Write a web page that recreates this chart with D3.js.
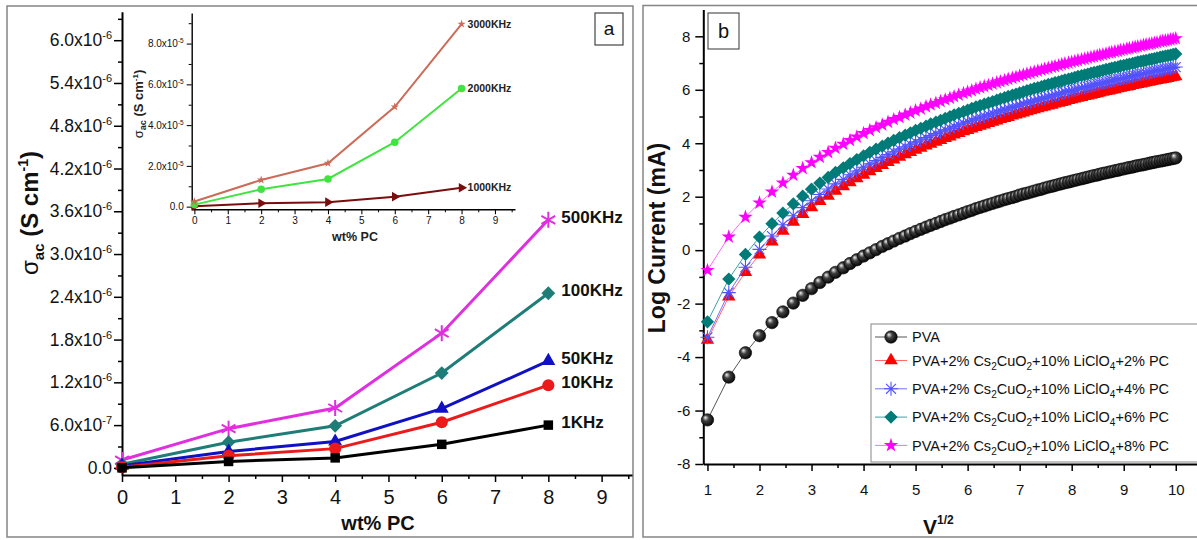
<!DOCTYPE html>
<html><head><meta charset="utf-8">
<script src="https://cdn.jsdelivr.net/npm/d3@7/dist/d3.min.js"></script>
<style>
html,body{margin:0;padding:0;background:#fff;}
svg{display:block;}
</style></head><body>
<svg id="chart" width="1197" height="540"></svg>
<script>
// ================= DATA =================
// Panel (a): sigma_ac (S cm^-1) vs wt% PC
const wtPC = [0, 2, 4, 6, 8];
const sigma1KHz   = [0.00e-6, 0.09e-6, 0.14e-6, 0.33e-6, 0.60e-6];
const sigma10KHz  = [0.01e-6, 0.17e-6, 0.27e-6, 0.64e-6, 1.16e-6];
const sigma50KHz  = [0.03e-6, 0.23e-6, 0.37e-6, 0.83e-6, 1.50e-6];
const sigma100KHz = [0.05e-6, 0.36e-6, 0.59e-6, 1.33e-6, 2.45e-6];
const sigma500KHz = [0.11e-6, 0.55e-6, 0.84e-6, 1.89e-6, 3.48e-6];
// inset
const sigma1000KHz = [0.02e-5, 0.17e-5, 0.22e-5, 0.49e-5, 0.93e-5];
const sigma2000KHz = [0.10e-5, 0.85e-5, 1.36e-5, 3.16e-5, 5.80e-5];
const sigma3000KHz = [0.25e-5, 1.31e-5, 2.13e-5, 4.90e-5, 8.96e-5];
const mainXTicks = [0,1,2,3,4,5,6,7,8,9];
const mainYTicks = [0, 6.0e-7, 1.2e-6, 1.8e-6, 2.4e-6, 3.0e-6, 3.6e-6, 4.2e-6, 4.8e-6, 5.4e-6, 6.0e-6];
const insetXTicks = [0,1,2,3,4,5,6,7,8,9];
const insetYTicks = [0, 2.0e-5, 4.0e-5, 6.0e-5, 8.0e-5];

// Panel (b): Log Current (mA) vs V^1/2
const sqrtV = [1.00,1.41,1.73,2.00,2.24,2.45,2.65,2.83,3.00,3.16,
3.32,3.46,3.61,3.74,3.87,4.00,4.12,4.24,4.36,4.47,
4.58,4.69,4.80,4.90,5.00,5.10,5.20,5.29,5.39,5.48,
5.57,5.66,5.74,5.83,5.92,6.00,6.08,6.16,6.24,6.32,
6.40,6.48,6.56,6.63,6.71,6.78,6.86,6.93,7.00,7.07,
7.14,7.21,7.28,7.35,7.42,7.48,7.55,7.62,7.68,7.75,
7.81,7.87,7.94,8.00,8.06,8.12,8.19,8.25,8.31,8.37,
8.43,8.49,8.54,8.60,8.66,8.72,8.77,8.83,8.89,8.94,
9.00,9.06,9.11,9.17,9.22,9.27,9.33,9.38,9.43,9.49,
9.54,9.59,9.64,9.70,9.75,9.80,9.85,9.90,9.95,10.00];
const logPVA = [-6.35,-4.75,-3.84,-3.20,-2.71,-2.31,-1.98,-1.69,-1.44,-1.21,
-1.01,-0.83,-0.66,-0.50,-0.36,-0.22,-0.10,0.02,0.14,0.24,
0.34,0.44,0.53,0.62,0.70,0.78,0.86,0.93,1.00,1.07,
1.14,1.20,1.26,1.32,1.38,1.44,1.49,1.55,1.60,1.65,
1.70,1.75,1.80,1.84,1.89,1.93,1.97,2.01,2.06,2.10,
2.13,2.17,2.21,2.25,2.28,2.32,2.36,2.39,2.42,2.46,
2.49,2.52,2.55,2.58,2.61,2.64,2.67,2.70,2.73,2.76,
2.79,2.81,2.84,2.87,2.89,2.92,2.94,2.97,2.99,3.02,
3.04,3.07,3.09,3.11,3.14,3.16,3.18,3.20,3.22,3.25,
3.27,3.29,3.31,3.33,3.35,3.37,3.39,3.41,3.43,3.45];
const logPC2 = [-3.36,-1.74,-0.82,-0.17,0.32,0.72,1.06,1.35,1.60,1.83,
2.03,2.22,2.39,2.54,2.69,2.82,2.95,3.07,3.18,3.29,
3.39,3.49,3.58,3.67,3.75,3.83,3.91,3.98,4.05,4.12,
4.19,4.25,4.32,4.38,4.44,4.49,4.55,4.60,4.65,4.70,
4.75,4.80,4.85,4.90,4.94,4.98,5.03,5.07,5.11,5.15,
5.19,5.23,5.27,5.30,5.34,5.37,5.41,5.44,5.48,5.51,
5.54,5.57,5.61,5.64,5.67,5.70,5.73,5.76,5.78,5.81,
5.84,5.87,5.89,5.92,5.95,5.97,6.00,6.02,6.05,6.07,
6.10,6.12,6.14,6.17,6.19,6.21,6.23,6.26,6.28,6.30,
6.32,6.34,6.36,6.38,6.40,6.42,6.44,6.46,6.48,6.50];
const logPC4 = [-3.26,-1.59,-0.64,0.03,0.53,0.95,1.29,1.59,1.85,2.08,
2.29,2.48,2.65,2.82,2.96,3.10,3.23,3.35,3.47,3.58,
3.68,3.78,3.87,3.96,4.05,4.13,4.21,4.29,4.36,4.43,
4.50,4.56,4.63,4.69,4.75,4.81,4.86,4.92,4.97,5.02,
5.07,5.12,5.17,5.22,5.26,5.31,5.35,5.39,5.43,5.48,
5.52,5.55,5.59,5.63,5.67,5.70,5.74,5.77,5.81,5.84,
5.88,5.91,5.94,5.97,6.00,6.03,6.06,6.09,6.12,6.15,
6.18,6.21,6.23,6.26,6.29,6.31,6.34,6.36,6.39,6.41,
6.44,6.46,6.49,6.51,6.53,6.56,6.58,6.60,6.62,6.64,
6.67,6.69,6.71,6.73,6.75,6.77,6.79,6.81,6.83,6.85];
const logPC6 = [-2.68,-1.08,-0.16,0.49,0.99,1.39,1.73,2.02,2.28,2.51,
2.72,2.91,3.08,3.24,3.39,3.53,3.66,3.78,3.89,4.00,
4.11,4.21,4.30,4.39,4.48,4.56,4.64,4.72,4.79,4.86,
4.93,5.00,5.06,5.12,5.18,5.24,5.30,5.36,5.41,5.46,
5.51,5.56,5.61,5.66,5.71,5.75,5.80,5.84,5.88,5.92,
5.97,6.01,6.05,6.08,6.12,6.16,6.20,6.23,6.27,6.30,
6.33,6.37,6.40,6.43,6.46,6.50,6.53,6.56,6.59,6.62,
6.65,6.67,6.70,6.73,6.76,6.78,6.81,6.84,6.86,6.89,
6.91,6.94,6.96,6.99,7.01,7.04,7.06,7.08,7.10,7.13,
7.15,7.17,7.19,7.22,7.24,7.26,7.28,7.30,7.32,7.34];
const logPC8 = [-0.75,0.50,1.24,1.77,2.18,2.52,2.81,3.06,3.28,3.48,
3.66,3.82,3.97,4.11,4.24,4.37,4.48,4.59,4.69,4.79,
4.89,4.97,5.06,5.14,5.22,5.29,5.37,5.44,5.50,5.57,
5.63,5.69,5.75,5.81,5.87,5.92,5.97,6.03,6.08,6.13,
6.17,6.22,6.27,6.31,6.35,6.40,6.44,6.48,6.52,6.56,
6.60,6.63,6.67,6.71,6.74,6.78,6.81,6.85,6.88,6.91,
6.95,6.98,7.01,7.04,7.07,7.10,7.13,7.16,7.19,7.22,
7.24,7.27,7.30,7.32,7.35,7.38,7.40,7.43,7.45,7.48,
7.50,7.53,7.55,7.57,7.60,7.62,7.64,7.67,7.69,7.71,
7.73,7.75,7.77,7.80,7.82,7.84,7.86,7.88,7.90,7.92];
const bXTicks = [1,2,3,4,5,6,7,8,9,10];
const bYTicks = [-8,-6,-4,-2,0,2,4,6,8];
const legendNames = ["PVA", "2% PC", "4% PC", "6% PC", "8% PC"];

// ================= DRAWING =================
const FONT = "'Liberation Sans', Arial, Helvetica, sans-serif";
const svg = d3.select("#chart").attr("font-family", FONT);

const defs = svg.append("defs");
const grad = defs.append("radialGradient").attr("id","sph")
  .attr("cx","45%").attr("cy","45%").attr("r","60%").attr("fx","32%").attr("fy","30%");
grad.append("stop").attr("offset","0%").attr("stop-color","#f0f0f0");
grad.append("stop").attr("offset","40%").attr("stop-color","#404040");
grad.append("stop").attr("offset","100%").attr("stop-color","#000");

function asteriskPath(r, n) {
  let p = "";
  for (let i = 0; i < n; i++) {
    const a = Math.PI * i / n, dx = r * Math.sin(a), dy = r * Math.cos(a);
    p += `M${-dx},${-dy}L${dx},${dy}`;
  }
  return p;
}
function sciParts(v) {
  if (v === 0) return ["0.0", ""];
  const e = Math.floor(Math.log10(v) + 1e-9);
  const m = v / Math.pow(10, e);
  return [m.toFixed(1) + "x10", String(e)];
}
function sciLabel(t, v, sfs, rise) {
  const p = sciParts(v);
  t.text(null);
  t.append("tspan").text(p[0]);
  if (p[1]) t.append("tspan").attr("dy", -rise).attr("font-size", sfs).text(p[1]);
}
function styleAxis(g, fs, sw) {
  g.attr("font-family", FONT).attr("font-size", fs);
  g.select(".domain").attr("stroke-width", sw);
  g.selectAll(".tick line").attr("stroke-width", sw * 0.75);
  g.selectAll(".tick text").attr("fill", "#111");
}
function minorAxis(gen, tr, sw) {
  return svg.append("g").attr("transform", tr).call(gen.tickFormat(""))
    .call(g => g.select(".domain").remove())
    .call(g => g.selectAll("line").attr("stroke-width", sw));
}
function drawSymbol(g, sym, x, y, color, sz) {
  if (sym === "aster") {
    g.append("path").attr("d", asteriskPath(sz, 3))
      .attr("transform", `translate(${x},${y})`).attr("stroke", color).attr("stroke-width", 2).attr("fill", "none");
  } else if (sym === "aster8") {
    g.append("path").attr("d", asteriskPath(sz, 4))
      .attr("transform", `translate(${x},${y})`).attr("stroke", color).attr("stroke-width", 1.1).attr("fill", "none");
  } else if (sym === "sphere") {
    g.append("circle").attr("cx", x).attr("cy", y).attr("r", sz).attr("fill", "url(#sph)").attr("stroke", "#000").attr("stroke-width", 0.6);
  } else {
    const types = {square: d3.symbolSquare, circle: d3.symbolCircle, triangle: d3.symbolTriangle,
      diamond: d3.symbolSquare, rtri: d3.symbolTriangle, star: d3.symbolStar};
    const rot = sym === "diamond" ? 45 : (sym === "rtri" ? 90 : 0);
    g.append("path").attr("d", d3.symbol(types[sym], sz)())
      .attr("transform", `translate(${x},${y}) rotate(${rot})`).attr("fill", color);
  }
}

// panel frames
svg.append("rect").attr("x", 7).attr("y", 6).attr("width", 626).attr("height", 531)
  .attr("fill", "none").attr("stroke", "#858585").attr("stroke-width", 1.5);
svg.append("rect").attr("x", 643).attr("y", 5.5).attr("width", 570).attr("height", 531.5)
  .attr("fill", "none").attr("stroke", "#858585").attr("stroke-width", 1.5);

// ---------- Panel (a) main ----------
const ax = d3.scaleLinear().domain([0, 9.57]).range([122, 632]);
const ay = d3.scaleLinear().domain([-0.1e-6, 6.4e-6]).range([475, 11.7]);

minorAxis(d3.axisBottom(ax).tickValues(d3.range(0.5, 9.6, 1)).tickSize(4), "translate(0,475)", 1.5);
const gax = svg.append("g").attr("transform", "translate(0,475)")
  .call(d3.axisBottom(ax).tickValues(mainXTicks).tickSize(7).tickSizeOuter(0).tickPadding(8));
styleAxis(gax, 20, 2);

minorAxis(d3.axisLeft(ay).tickValues(d3.range(0.3e-6, 6.4e-6, 0.6e-6)).tickSize(4), "translate(122,0)", 1.5);
const gay = svg.append("g").attr("transform", "translate(122,0)")
  .call(d3.axisLeft(ay).tickValues(mainYTicks).tickSize(8).tickSizeOuter(0).tickPadding(2).tickFormat(""));
styleAxis(gay, 17.5, 2);
gay.selectAll(".tick text").each(function(d) { sciLabel(d3.select(this), d, 11, 7); });

const seriesA = [
  {vals: sigma500KHz, color: "#df2fdf", sym: "aster",   sz: 8,   label: "500KHz"},
  {vals: sigma100KHz, color: "#1f7d78", sym: "diamond", sz: 95,  label: "100KHz"},
  {vals: sigma50KHz,  color: "#1010c4", sym: "triangle",sz: 85,  label: "50KHz"},
  {vals: sigma10KHz,  color: "#ec1a1a", sym: "circle",  sz: 115, label: "10KHz"},
  {vals: sigma1KHz,   color: "#000000", sym: "square",  sz: 90,  label: "1KHz"}
];
const lineA = d3.line().x((d, i) => ax(wtPC[i])).y(d => ay(d));
seriesA.forEach(s => {
  const g = svg.append("g");
  g.append("path").attr("d", lineA(s.vals)).attr("fill", "none").attr("stroke", s.color).attr("stroke-width", 3);
  s.vals.forEach((v, i) => drawSymbol(g, s.sym, ax(wtPC[i]), ay(v), s.color, s.sz));
  g.append("text").attr("x", ax(wtPC[4]) + 13).attr("y", ay(s.vals[4]) - 3).attr("dy", "0.35em")
    .attr("font-size", 17).attr("font-weight", "bold").attr("fill", "#111").text(s.label);
});

// axis labels panel a
svg.append("text").attr("x", 378).attr("y", 530).attr("text-anchor", "middle")
  .attr("font-size", 20).attr("font-weight", "bold").attr("fill", "#111").text("wt% PC");
{
  const t = svg.append("text").attr("transform", "translate(38,213) rotate(-90)")
    .attr("text-anchor", "middle").attr("font-size", 24).attr("font-weight", "bold").attr("fill", "#111");
  t.append("tspan").attr("font-weight", "normal").text("σ");
  t.append("tspan").attr("font-size", 15).attr("dy", 6).text("ac");
  t.append("tspan").attr("dy", -6).text(" (S cm");
  t.append("tspan").attr("font-size", 14).attr("dy", -10).text("-1");
  t.append("tspan").attr("dy", 10).text(")");
}
// "a" box
svg.append("rect").attr("x", 595).attr("y", 13).attr("width", 28).attr("height", 32)
  .attr("fill", "#fff").attr("stroke", "#444").attr("stroke-width", 1.2);
svg.append("text").attr("x", 609).attr("y", 35).attr("text-anchor", "middle").attr("font-size", 19).attr("fill", "#111").text("a");

// ---------- Panel (a) inset ----------
const ix = d3.scaleLinear().domain([-0.08, 9.6]).range([191.7, 515]);
const iy = d3.scaleLinear().domain([-0.13e-5, 9.5e-5]).range([209.3, 13]);
minorAxis(d3.axisBottom(ix).tickValues(d3.range(0.5, 9.6, 1)).tickSize(3), "translate(0,209.3)", 1);
const gix = svg.append("g").attr("transform", "translate(0,209.3)")
  .call(d3.axisBottom(ix).tickValues(insetXTicks).tickSize(5).tickSizeOuter(0).tickPadding(3));
styleAxis(gix, 10, 1.4);
minorAxis(d3.axisLeft(iy).tickValues(d3.range(1e-5, 9.5e-5, 2e-5)).tickSize(3), "translate(191.7,0)", 1);
const giy = svg.append("g").attr("transform", "translate(191.7,0)")
  .call(d3.axisLeft(iy).tickValues(insetYTicks).tickSize(5).tickSizeOuter(0).tickPadding(3).tickFormat(""));
styleAxis(giy, 10, 1.4);
giy.selectAll(".tick text").each(function(d) { sciLabel(d3.select(this), d, 6.5, 4); });

const seriesI = [
  {vals: sigma1000KHz, color: "#7a0d0d", sym: "rtri",   sz: 40, label: "1000KHz"},
  {vals: sigma2000KHz, color: "#3fe43f", sym: "circle", sz: 45, label: "2000KHz"},
  {vals: sigma3000KHz, color: "#cc6b57", sym: "star",   sz: 22, label: "3000KHz"}
];
const lineI = d3.line().x((d, i) => ix(wtPC[i])).y(d => iy(d));
seriesI.forEach(s => {
  const g = svg.append("g");
  g.append("path").attr("d", lineI(s.vals)).attr("fill", "none").attr("stroke", s.color).attr("stroke-width", 2);
  s.vals.forEach((v, i) => drawSymbol(g, s.sym, ix(wtPC[i]), iy(v), s.color, s.sz));
  g.append("text").attr("x", ix(wtPC[4]) + 6).attr("y", iy(s.vals[4])).attr("dy", "0.35em")
    .attr("font-size", 10.5).attr("font-weight", "bold").attr("fill", "#222").text(s.label);
});
svg.append("text").attr("x", 355).attr("y", 241).attr("text-anchor", "middle")
  .attr("font-size", 12.5).attr("font-weight", "bold").attr("fill", "#222").text("wt% PC");
{
  const t = svg.append("text").attr("transform", "translate(143,104) rotate(-90)")
    .attr("text-anchor", "middle").attr("font-size", 13).attr("font-weight", "bold").attr("fill", "#222");
  t.append("tspan").attr("font-weight", "normal").text("σ");
  t.append("tspan").attr("font-size", 9).attr("dy", 3).text("ac");
  t.append("tspan").attr("dy", -3).text(" (S cm");
  t.append("tspan").attr("font-size", 8).attr("dy", -5).text("-1");
  t.append("tspan").attr("dy", 5).text(")");
}

// ---------- Panel (b) ----------
const bx = d3.scaleLinear().domain([0.92, 10.42]).range([703.3, 1197.6]);
const by = d3.scaleLinear().domain([-8, 9]).range([464, 9.6]);

minorAxis(d3.axisBottom(bx).tickValues(d3.range(1.5, 10.4, 1)).tickSize(4), "translate(0,464)", 1.5);
const gbx = svg.append("g").attr("transform", "translate(0,464)")
  .call(d3.axisBottom(bx).tickValues(bXTicks).tickSize(7).tickSizeOuter(0).tickPadding(13));
styleAxis(gbx, 15, 2);
minorAxis(d3.axisLeft(by).tickValues(d3.range(-7, 9, 2)).tickSize(4), "translate(703.3,0)", 1.5);
const gby = svg.append("g").attr("transform", "translate(703.3,0)")
  .call(d3.axisLeft(by).tickValues(bYTicks).tickSize(8).tickSizeOuter(0).tickPadding(5).tickFormat(d3.format("d")));
styleAxis(gby, 15, 2);
gby.selectAll(".tick text").text(d => String(d));

const seriesB = [
  {vals: logPVA, color: "#000000", line: "#555555", sym: "sphere",  sz: 6.2},
  {vals: logPC2, color: "#ff0000", line: "#ff6a6a", sym: "triangle",sz: 78},
  {vals: logPC4, color: "#5252ff", line: "#6f6fff", sym: "aster8",  sz: 7},
  {vals: logPC6, color: "#007b78", line: "#3aa3a0", sym: "diamond", sz: 88},
  {vals: logPC8, color: "#ff00ff", line: "#ff66ff", sym: "star",    sz: 64}
];
const lineB = d3.line().x((d, i) => bx(sqrtV[i])).y(d => by(d));
seriesB.forEach(s => {
  const g = svg.append("g");
  g.append("path").attr("d", lineB(s.vals)).attr("fill", "none").attr("stroke", s.line).attr("stroke-width", 1);
  s.vals.forEach((v, i) => drawSymbol(g, s.sym, bx(sqrtV[i]), by(v), s.color, s.sz));
});

// legend
svg.append("rect").attr("x", 871).attr("y", 324).attr("width", 340).attr("height", 138)
  .attr("fill", "#fff").attr("stroke", "#9a9a9a").attr("stroke-width", 1.2);
const legY = [337, 360.5, 388.8, 417.1, 445.4];
seriesB.forEach((s, i) => {
  const g = svg.append("g");
  const y = legY[i];
  g.append("line").attr("x1", 875).attr("x2", 907).attr("y1", y).attr("y2", y).attr("stroke", s.line).attr("stroke-width", 1);
  drawSymbol(g, s.sym, 891, y, s.color, s.sz);
  const t = g.append("text").attr("x", 912).attr("y", y).attr("dy", "0.36em").attr("font-size", 14.5).attr("fill", "#111");
  if (i === 0) { t.text(legendNames[0]); return; }
  t.append("tspan").text("PVA+2% Cs");
  t.append("tspan").attr("font-size", 10).attr("dy", 4).text("2");
  t.append("tspan").attr("dy", -4).text("CuO");
  t.append("tspan").attr("font-size", 10).attr("dy", 4).text("2");
  t.append("tspan").attr("dy", -4).text("+10% LiClO");
  t.append("tspan").attr("font-size", 10).attr("dy", 4).text("4");
  t.append("tspan").attr("dy", -4).text("+" + legendNames[i]);
});

// axis labels panel b
svg.append("text").attr("transform", "translate(665,238) rotate(-90)").attr("text-anchor", "middle")
  .attr("font-size", 23).attr("font-weight", "bold").attr("fill", "#111").text("Log Current (mA)");
{
  const t = svg.append("text").attr("x", 923).attr("y", 534).attr("font-size", 21).attr("font-weight", "bold").attr("fill", "#111");
  t.append("tspan").text("V");
  t.append("tspan").attr("font-size", 12).attr("dy", -10).text("1/2");
}
// "b" box
svg.append("rect").attr("x", 708).attr("y", 13).attr("width", 31).attr("height", 36)
  .attr("fill", "#fff").attr("stroke", "#555").attr("stroke-width", 1.2);
svg.append("text").attr("x", 723.5).attr("y", 38).attr("text-anchor", "middle").attr("font-size", 20).attr("fill", "#111").text("b");
</script>
</body></html>
